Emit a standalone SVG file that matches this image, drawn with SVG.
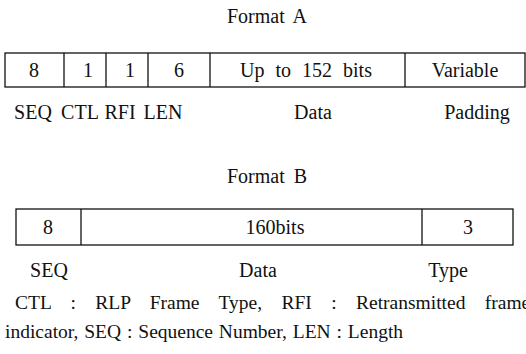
<svg xmlns="http://www.w3.org/2000/svg" width="526" height="354" viewBox="0 0 526 354" font-family="'Liberation Serif', 'Times New Roman', serif">
<style>
text{font-family:"Liberation Serif","Times New Roman",serif;font-size:20px;fill:#111}
.c{text-anchor:middle}
.lg{font-size:19.5px}
.box{fill:#fff;stroke:#111;stroke-width:1.3}
.div{stroke:#111;stroke-width:1.3}
</style>
<rect width="526" height="354" fill="#fff"/>
<text class="c" x="267" y="23" style="word-spacing:4px">Format A</text>
<g id="formatA">
<rect class="box" x="5" y="53" width="520" height="34"/>
<line class="div" x1="64" y1="53" x2="64" y2="87"/>
<line class="div" x1="106" y1="53" x2="106" y2="87"/>
<line class="div" x1="148" y1="53" x2="148" y2="87"/>
<line class="div" x1="210" y1="53" x2="210" y2="87"/>
<line class="div" x1="405" y1="53" x2="405" y2="87"/>
<text class="c" x="34" y="77">8</text>
<text class="c" x="88" y="77">1</text>
<text class="c" x="130" y="77">1</text>
<text class="c" x="179" y="77">6</text>
<text class="c" x="306" y="77" style="word-spacing:6px">Up to 152 bits</text>
<text class="c" x="465" y="77">Variable</text>
</g>
<g id="labelsA">
<text class="c" x="33" y="119">SEQ</text>
<text class="c" x="80" y="119">CTL</text>
<text class="c" x="120" y="119">RFI</text>
<text class="c" x="163" y="119">LEN</text>
<text class="c" x="313" y="119">Data</text>
<text class="c" x="477" y="119">Padding</text>
</g>
<text class="c" x="267" y="183" style="word-spacing:4px">Format B</text>
<g id="formatB">
<rect class="box" x="16" y="209" width="497" height="36"/>
<line class="div" x1="81" y1="209" x2="81" y2="245"/>
<line class="div" x1="422" y1="209" x2="422" y2="245"/>
<text class="c" x="48" y="234">8</text>
<text class="c" x="275" y="234">160bits</text>
<text class="c" x="468" y="234">3</text>
</g>
<g id="labelsB">
<text class="c" x="49" y="277">SEQ</text>
<text class="c" x="258" y="277">Data</text>
<text class="c" x="448" y="277">Type</text>
</g>
<g id="legend">
<text class="lg" x="15" y="309" style="word-spacing:14.5px">CTL : RLP Frame Type, RFI : Retransmitted frame</text>
<text class="lg" x="5" y="338" style="word-spacing:1px">indicator, SEQ : Sequence Number, LEN : Length</text>
</g>
</svg>
